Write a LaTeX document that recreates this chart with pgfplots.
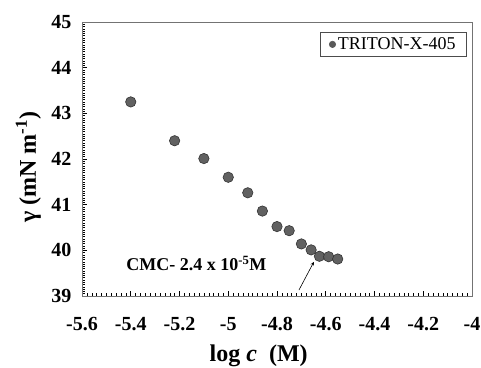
\documentclass[border=0pt]{standalone}
\usepackage{fontspec}
\setmainfont{Liberation Serif}
\usepackage{pgfplots}
\pgfplotsset{compat=1.18}
\begin{document}
\begin{tikzpicture}[x=1pt,y=1pt]
\useasboundingbox (0,0) rectangle (481,367);
\begin{axis}[
  at={(82pt,71pt)}, anchor=south west,
  scale only axis, width=390pt, height=274pt,
  xmin=-5.6, xmax=-4.0, ymin=39, ymax=45,
  xtick={-5.6,-5.4,-5.2,-5.0,-4.8,-4.6,-4.4,-4.2,-4.0},
  xticklabels={-5.6,-5.4,-5.2,-5,-4.8,-4.6,-4.4,-4.2,-4},
  ytick={39,40,41,42,43,44,45},
  yticklabels={39,40,41,42,43,44,45},
  minor x tick num=9, minor y tick num=19,
  tick pos=left, tick align=inside,
  major tick length=5pt, minor tick length=3pt,
  tick style={black, line width=0.6pt},
  minor tick style={black, line width=0.5pt},
  axis line style={black!55, line width=0.8pt},
  ticklabel style={font=\fontsize{20}{22}\selectfont\bfseries},
  xticklabel style={yshift=-18pt},
  yticklabel style={xshift=-7pt},
  xlabel={log \textit{c}\ \ (M)},
  xlabel style={at={(axis description cs:0.453,-0.238)}, anchor=base, font=\fontsize{24}{26}\selectfont\bfseries},
  ylabel={γ (mN m\textsuperscript{-1})},
  ylabel style={at={(axis description cs:-0.118,0.47)}, anchor=base, font=\fontsize{24}{26}\selectfont\bfseries},
  legend style={at={(axis description cs:0.987,0.964)}, anchor=north east, draw=black!70, line width=0.6pt,
    font=\fontsize{18}{20}\selectfont, inner xsep=9pt, inner ysep=3.5pt},
  legend image code/.code={\fill[black!65] (0pt,0pt) circle (3.2pt);},
  legend cell align=left,
]
\addplot[only marks, mark=*, mark size=5.2pt, mark options={fill=black!62, draw=black!80, line width=0.6pt}]
coordinates {
(-5.40,43.25)
(-5.22,42.40)
(-5.10,42.01)
(-5.00,41.60)
(-4.92,41.26)
(-4.86,40.86)
(-4.80,40.52)
(-4.75,40.43)
(-4.70,40.14)
(-4.66,40.01)
(-4.626,39.87)
(-4.588,39.86)
(-4.551,39.81)
};
\addlegendentry{TRITON-X-405}
\node[anchor=base, font=\fontsize{18}{20}\selectfont\bfseries] at (axis cs:-5.131,39.55) {CMC- 2.4 x 10\textsuperscript{-5}M};
\draw[-stealth, line width=0.6pt] (axis cs:-4.710,39.13) -- (axis cs:-4.649,39.745);
\end{axis}
\end{tikzpicture}
\end{document}
